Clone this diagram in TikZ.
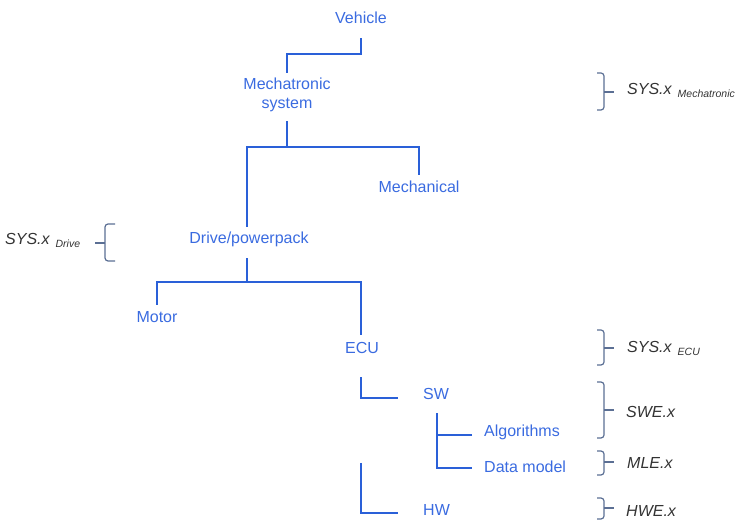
\documentclass[tikz,border=0pt]{standalone}
\usepackage{fontspec}
\setmainfont{Liberation Sans}
\definecolor{partblue}{HTML}{3A6BE0}
\definecolor{lineblue}{HTML}{2A60D8}
\definecolor{labelgray}{HTML}{333333}
\definecolor{bracketgray}{HTML}{5B6F94}
% right-hand bracket: top, middle, bottom (y grows downwards)
\newcommand\rightbracket[3]{%
  \draw[bracket] (597,#1) -- (604,#1) -- (604,#3) -- (597,#3);
  \draw[bracket] (604,#2) -- (614,#2);}
\begin{document}
\begin{tikzpicture}[x=1pt,y=-1pt,
  part/.style={text=partblue, font=\fontsize{16}{17}\selectfont,
    inner sep=0pt, text height=12pt, text depth=0pt, anchor=base},
  partleft/.style={part, anchor=base west},
  tree/.style={draw=lineblue, line width=2.6pt},
  level/.style={text=labelgray, font=\fontsize{16}{18}\selectfont\itshape,
    inner sep=0pt, anchor=base west},
  bracket/.style={draw=bracketgray, line width=1.2pt, rounded corners=3pt},
]
\useasboundingbox (0,0) rectangle (737,521);

% components of the hierarchy
\node[part] (veh) at (361,24) {Vehicle};
\node[text=partblue, font=\fontsize{16}{19}\selectfont, inner sep=0pt,
  align=center] (mech) at (287,95) {Mechatronic\\system};
\node[part] (mechl) at (419,193) {Mechanical};
\node[part] (drive) at (249,244) {Drive/powerpack};
\node[part] (motor) at (157,323) {Motor};
\node[part] (ecu) at (362,354) {ECU};
\node[partleft] (sw) at (423,400) {SW};
\node[partleft] (alg) at (484,437) {Algorithms};
\node[partleft] (dm) at (484,472) {Data model};
\node[partleft] (hw) at (423,515) {HW};
\coordinate (hwtop) at (361,463);

% tree connectors
\draw[tree] ([yshift=-14pt]veh.south) -- ++(0,16) -| ([yshift=5pt]mech.north);
\draw[tree] ([yshift=-9pt]mech.south) -- ++(0,26) coordinate (j1);
\draw[tree] ([xshift=-2pt,yshift=5pt]drive.north) |- (j1)
  -| ([yshift=6pt]mechl.north);
\draw[tree] ([xshift=-2pt,yshift=-14pt]drive.south) -- ++(0,24) coordinate (j2);
\draw[tree] ([yshift=6pt]motor.north) |- (j2) -| ([xshift=-1pt,yshift=7pt]ecu.north);
\draw[tree] ([xshift=-1pt,yshift=-23pt]ecu.south) |- ([xshift=-25pt,yshift=-4pt]sw.west);
\draw[tree] ([xshift=1pt,yshift=-13pt]sw.south) |- ([xshift=-12pt,yshift=-2pt]dm.west);
\draw[tree] ([xshift=-12pt,yshift=-4pt]alg.west) -- ++(-35,0);
\draw[tree] (hwtop) |- ([xshift=-25pt,yshift=-4pt]hw.west);

% level labels
\node[level] (lmech) at (627,95) {SYS.x\hspace{6pt}\raisebox{-3pt}{\fontsize{10.5}{12}\selectfont Mechatronic}};
\node[level] (ldrive) at (5,245) {SYS.x\hspace{6pt}\raisebox{-3pt}{\fontsize{10.5}{12}\selectfont Drive}};
\node[level] (lecu) at (627,353) {SYS.x\hspace{6pt}\raisebox{-3pt}{\fontsize{10.5}{12}\selectfont ECU}};
\node[level] (lswe) at (626,418) {SWE.x};
\node[level] (lmle) at (627,468) {MLE.x};
\node[level] (lhwe) at (626,516) {HWE.x};

% brackets
\rightbracket{73}{92}{110}
\rightbracket{330}{348}{365}
\rightbracket{382}{410}{438}
\rightbracket{451}{462}{475}
\rightbracket{498}{508}{519}
\draw[bracket] (115,224) -- (105,224) -- (105,261) -- (115,261);
\draw[bracket] (105,243) -- (95,243);
\end{tikzpicture}
\end{document}
